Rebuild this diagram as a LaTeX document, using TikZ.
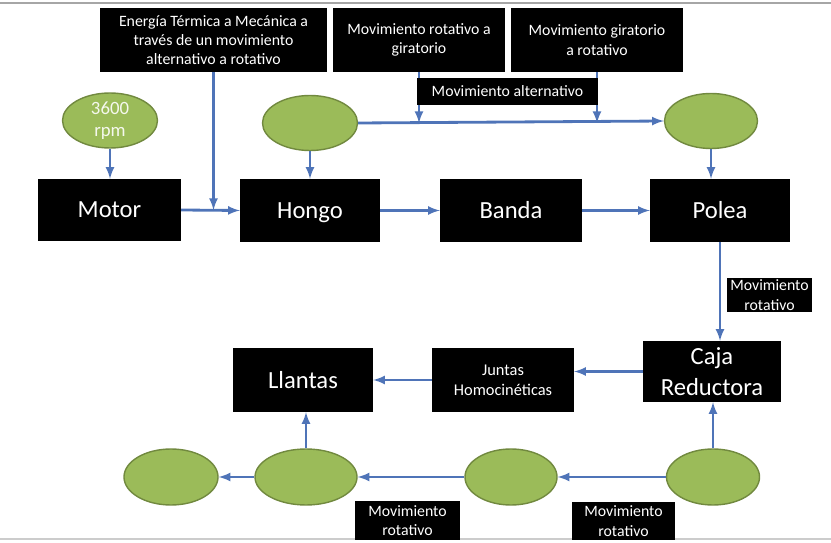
\documentclass[tikz,border=0pt]{standalone}
\usepackage{fontspec}
\setmainfont{Carlito}
\usetikzlibrary{shapes.geometric}

\definecolor{flecha}{RGB}{79,116,184}
\definecolor{verde}{RGB}{155,187,89}
\definecolor{verdeosc}{RGB}{113,137,63}

\tikzset{
    caja/.style={fill=black,text=white,align=center,inner sep=1pt,font=\fontsize{21}{26}\selectfont},
    etiq/.style={fill=black,text=white,align=center,inner sep=1pt,font=\fontsize{13.5}{16.5}\selectfont},
    elip/.style={ellipse,fill=verde,draw=verdeosc,line width=1.2pt,text=white!90!verde,align=center,inner sep=0pt,font=\fontsize{16}{19}\selectfont},
    flec/.style={->,draw=flecha,line width=2.4pt}
}

\begin{document}
\begin{tikzpicture}[>=latex,x=0.03cm,y=-0.03cm]
        \useasboundingbox (0,0) rectangle (831,543);
        \draw[gray!70,line width=1pt] (0,3)--(831,3);
        \draw[gray!40,line width=1pt] (0,539)--(831,539);

        % bloques principales
        \node[caja,minimum width=143*0.03cm,minimum height=62*0.03cm] (motor) at (109.5,210) {Motor};
        \node[caja,minimum width=140*0.03cm,minimum height=63*0.03cm,text depth=0pt] (hongo) at (310,210.5) {Hongo};
        \node[caja,minimum width=142*0.03cm,minimum height=63*0.03cm] (banda) at (511,210.5) {Banda};
        \node[caja,minimum width=140*0.03cm,minimum height=63*0.03cm] (polea) at (720,210.5) {Polea};
        \node[caja,minimum width=138*0.03cm,minimum height=61*0.03cm] (reductora) at (712,371.5) {Caja\\Reductora};
        \node[etiq,font=\fontsize{14}{17}\selectfont,minimum width=142*0.03cm,minimum height=64*0.03cm] (juntas) at (503,380) {Juntas\\Homocinéticas};
        \node[caja,minimum width=140*0.03cm,minimum height=64*0.03cm] (llantas) at (303,380) {Llantas};

        % etiquetas
        \node[etiq,minimum width=227*0.03cm,minimum height=64*0.03cm] (energia) at (213.5,40) {Energía Térmica a Mecánica a\\través de un movimiento\\alternativo a rotativo};
        \node[etiq,minimum width=172*0.03cm,minimum height=64*0.03cm] (rotgir) at (419,40) {Movimiento rotativo a\\giratorio};
        \node[etiq,minimum width=172*0.03cm,minimum height=64*0.03cm] (girrot) at (597,40) {Movimiento giratorio\\a rotativo};
        \node[etiq,minimum width=85*0.03cm,minimum height=34*0.03cm] (movrot) at (769.5,295) {Movimiento\\rotativo};
        \node[etiq,minimum width=105*0.03cm,minimum height=39*0.03cm] (movrotA) at (407.5,520.5) {Movimiento\\rotativo};
        \node[etiq,minimum width=103*0.03cm,minimum height=38*0.03cm] (movrotB) at (623.5,521) {Movimiento\\rotativo};

        % elipses
        \node[elip,minimum width=95*0.03cm,minimum height=55*0.03cm] (rpm) at (110,120.5) {3600\\rpm};
        \node[elip,minimum width=95*0.03cm,minimum height=55*0.03cm] (eHongo) at (310,123) {};
        \node[elip,minimum width=93*0.03cm,minimum height=55*0.03cm] (ePolea) at (711,121) {};
        \node[elip,minimum width=94*0.03cm,minimum height=56*0.03cm] (eA) at (171,477) {};
        \node[elip,minimum width=102*0.03cm,minimum height=56*0.03cm] (eB) at (306,477) {};
        \node[elip,minimum width=92*0.03cm,minimum height=56*0.03cm] (eC) at (511,477) {};
        \node[elip,minimum width=93*0.03cm,minimum height=56*0.03cm] (eD) at (713,477) {};

        % flechas
        \draw[flec] (rpm.south)--(rpm.south |- motor.north);
        \draw[flec] (motor.east)--(hongo.west);
        \draw[flec] (energia.south)--(energia.south |- motor.east);
        \draw[flec] (eHongo.south)--(eHongo.south |- hongo.north);
        \draw[flec] (eHongo.east)--(ePolea.west);
        \draw[flec] (rotgir.south)--(rotgir.south |- eHongo.east);
        \draw[flec] (girrot.south)--(girrot.south |- eHongo.east);
        \draw[flec] (ePolea.south)--(ePolea.south |- polea.north);
        \draw[flec] (hongo.east)--(banda.west);
        \draw[flec] (banda.east)--(polea.west);
        \draw[flec] (polea.south)--(polea.south |- reductora.north);
        \draw[flec] (reductora.west)--(reductora.west -| juntas.east);
        \draw[flec] (juntas.west)--(llantas.east);
        \draw[flec] (eD.north)--(eD.north |- reductora.south);
        \draw[flec] (eD.west)--(eC.east);
        \draw[flec] (eC.west)--(eB.east);
        \draw[flec] (eB.north)--(eB.north |- llantas.south);
        \draw[flec] (eB.west)--(eA.east);

        \node[etiq,minimum width=181*0.03cm,minimum height=27*0.03cm] (alter) at (507.5,91.5) {Movimiento alternativo};

    \end{tikzpicture}
\end{document}
